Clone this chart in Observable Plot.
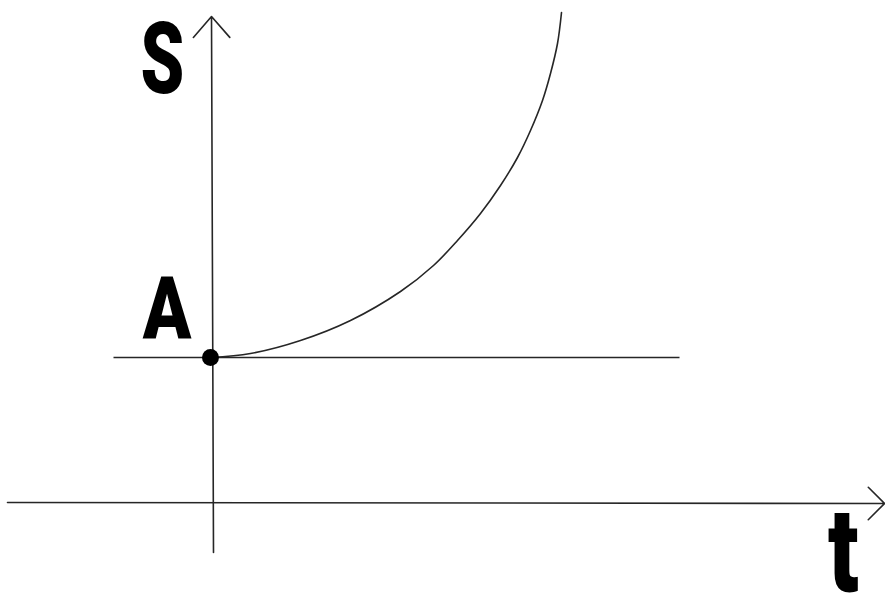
<!DOCTYPE html>
<html>
<head>
<meta charset="utf-8">
<script src="https://cdn.jsdelivr.net/npm/d3@7"></script>
<script src="https://cdn.jsdelivr.net/npm/@observablehq/plot@0.6"></script>
<style>
  html, body { margin: 0; padding: 0; background: #fff; }
  #chart { width: 885px; height: 597px; overflow: hidden; }
</style>
</head>
<body>
<div id="chart"></div>
<script>
// Curve S(t) (data units)
const curveT = [-0.04, 0.76, 1.76, 2.76, 3.76, 4.42, 4.90, 5.36, 5.76, 6.10, 6.36, 6.60, 6.76, 6.90, 6.98];
const curveS = [2.90, 2.98, 3.24, 3.64, 4.22, 4.74, 5.24, 5.78, 6.34, 6.90, 7.44, 8.04, 8.58, 9.18, 9.80];

// Level A (horizontal line) and its extent
const levelA = 2.9;
const levelAT = [-1.98, 9.34];

// Axes endpoints (t axis and S axis)
const tAxisT = [-4.1, 13.44];
const tAxisS = [0, -0.02];
const sAxisT = [0.02, -0.02];
const sAxisS = [-1.0, 9.72];

// Starting point
const startT = [-0.04];
const startS = [2.9];

// Labels
const labelText = ["S", "A", "t"];
const labelT = [-1.0, -0.91, 12.62];
const labelS = [8.2, 3.28, -1.76];

const curve = curveT.map((t, i) => ({t, s: curveS[i]}));
const labels = labelText.map((text, i) => ({text, t: labelT[i], s: labelS[i]}));
const ink = "#262626";

const labelStyle = {x: "t", y: "s", text: "text", fontFamily: "Roboto", fontWeight: 900,
  fill: "#000", lineAnchor: "bottom", textAnchor: "middle"};

const chart = Plot.plot({
  width: 885,
  height: 597,
  margin: 0,
  style: {background: "#fff"},
  x: {domain: [-4.24, 13.46], axis: null},
  y: {domain: [-1.9, 10.04], axis: null},
  marks: [
    Plot.arrow([{}], {
      x1: () => tAxisT[0], y1: () => tAxisS[0], x2: () => tAxisT[1], y2: () => tAxisS[1],
      stroke: ink, strokeWidth: 1.6, headAngle: 90, headLength: 21.5
    }),
    Plot.arrow([{}], {
      x1: () => sAxisT[0], y1: () => sAxisS[0], x2: () => sAxisT[1], y2: () => sAxisS[1],
      stroke: ink, strokeWidth: 1.6, headAngle: 82, headLength: 26
    }),
    Plot.link([{}], {
      x1: () => levelAT[0], x2: () => levelAT[1], y1: () => levelA, y2: () => levelA,
      stroke: ink, strokeWidth: 1.6
    }),
    Plot.line(curve, {x: "t", y: "s", curve: "catmull-rom", stroke: ink, strokeWidth: 1.6}),
    Plot.dot(startT.map((t, i) => ({t, s: startS[i]})), {x: "t", y: "s", r: 8.5, fill: "#000"}),
    Plot.text(labels.slice(0, 1), {...labelStyle, fontSize: 100}),
    Plot.text(labels.slice(1, 2), {...labelStyle, fontSize: 87}),
    Plot.text(labels.slice(2, 3), {...labelStyle, fontSize: 118})
  ]
});

document.getElementById("chart").appendChild(chart);

// Condense the label glyphs horizontally
const squeeze = {"S": 0.70, "A": 0.82, "t": 0.76};
d3.select(chart).selectAll("text").each(function () {
  const k = squeeze[this.textContent];
  if (k === undefined) return;
  const tr = this.getAttribute("transform") || "";
  this.setAttribute("transform", `${tr} scale(${k},1)`);
});
</script>
</body>
</html>
